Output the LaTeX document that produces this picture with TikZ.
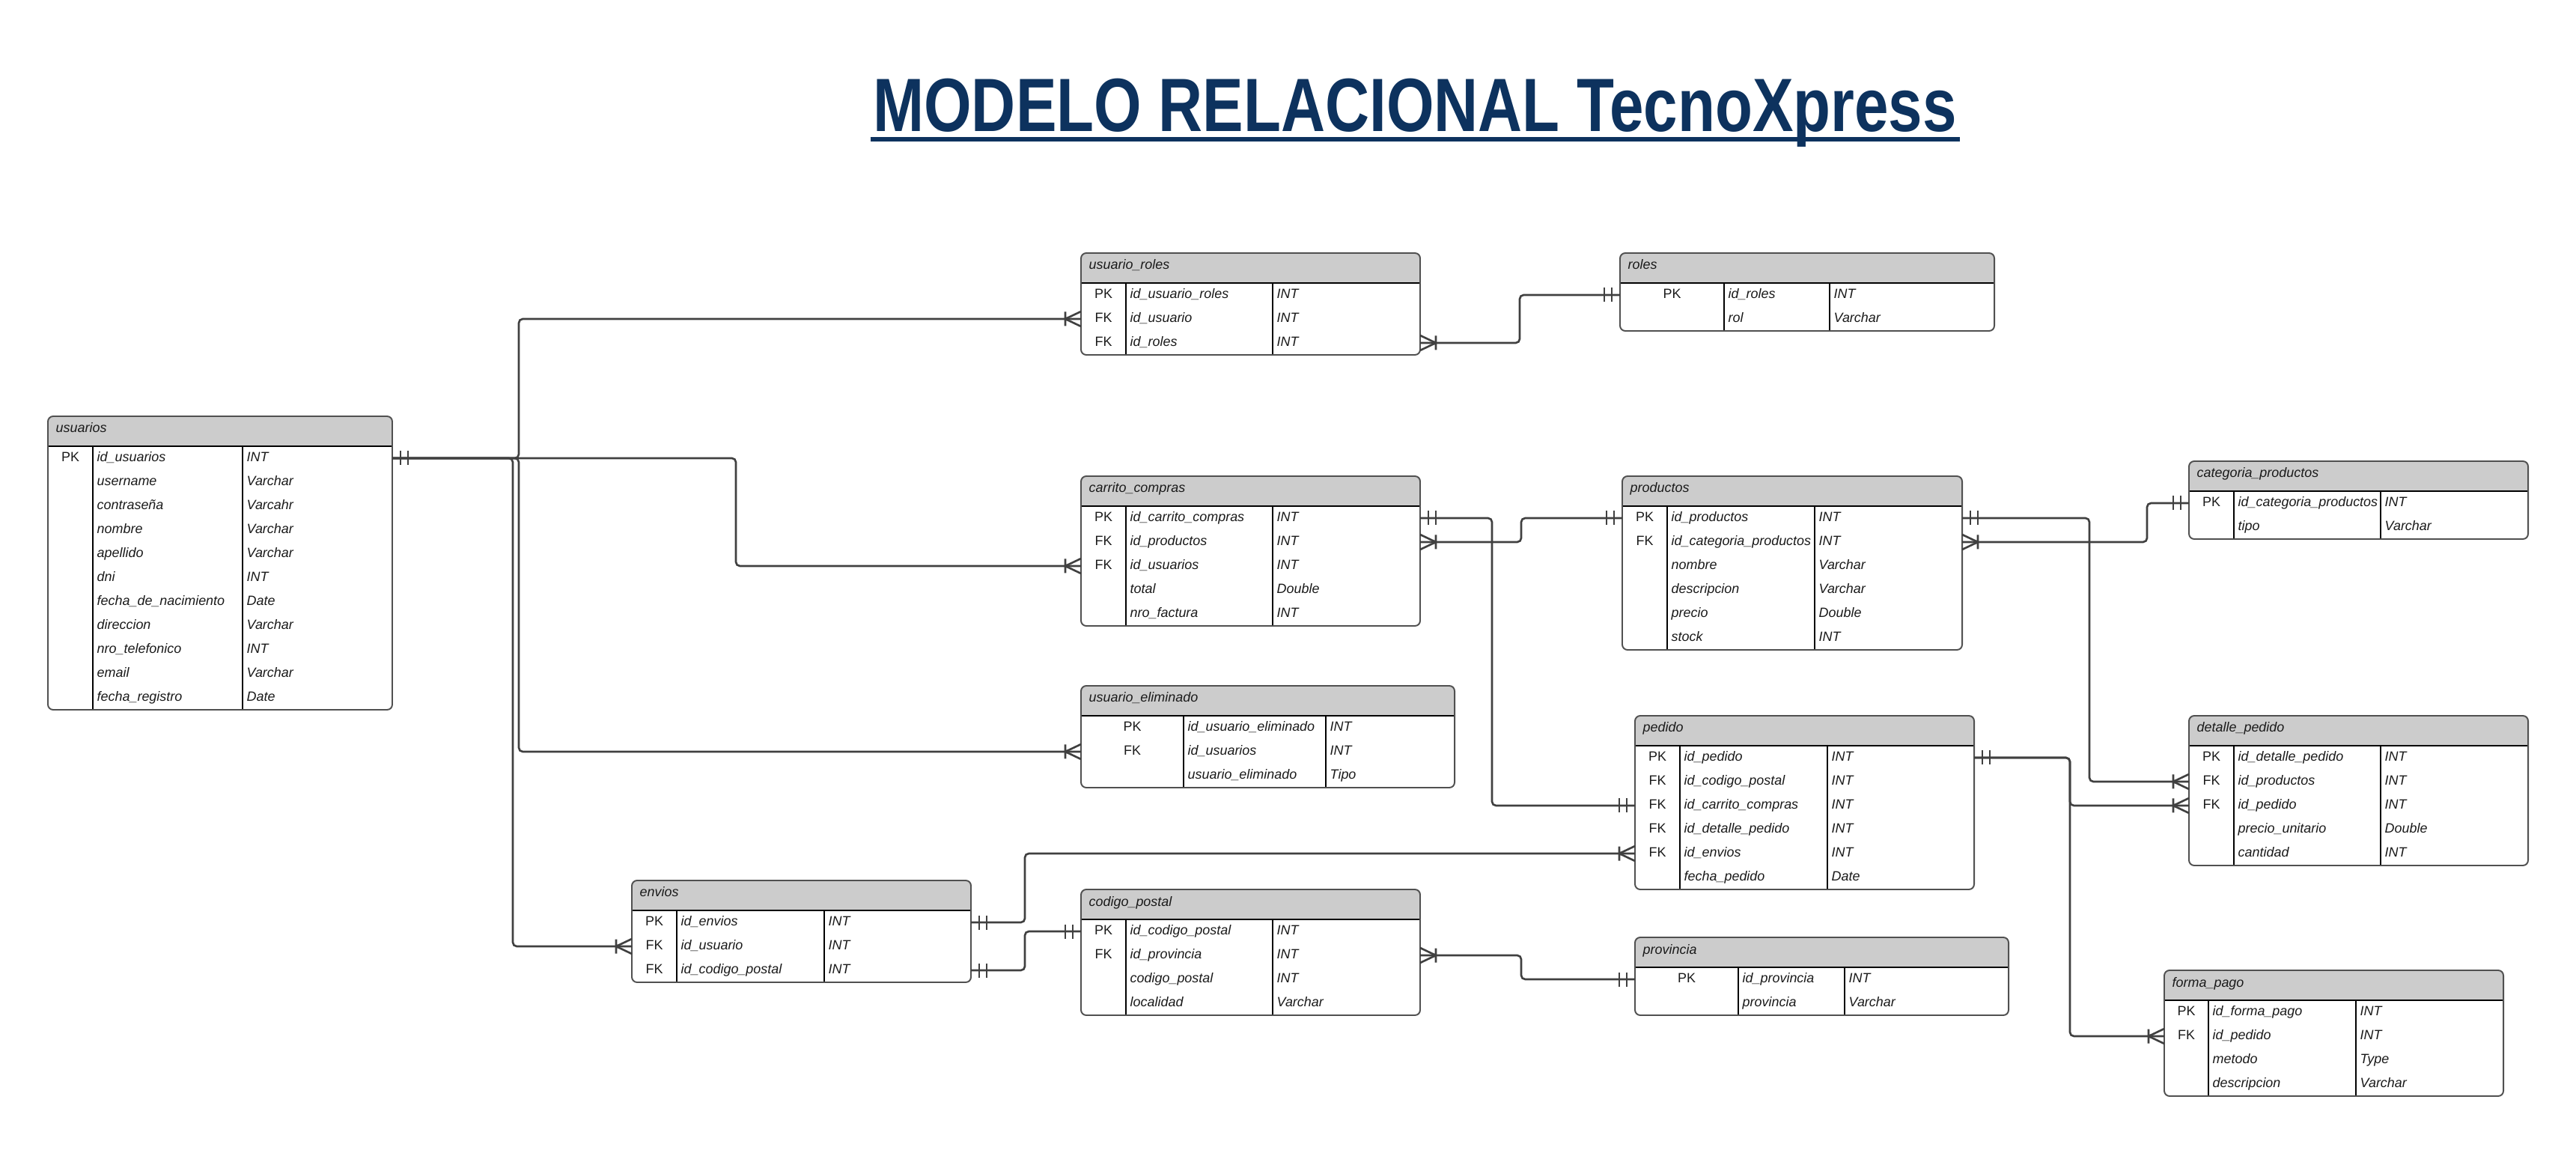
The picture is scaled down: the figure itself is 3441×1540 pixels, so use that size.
\documentclass[tikz,border=0pt]{standalone}
\usepackage{fontspec}
\usepackage{graphicx}
\newfontfamily\erfont{Liberation Sans}
\newfontfamily\titlefont{Liberation Sans}
\definecolor{headc}{HTML}{CCCCCC}
\definecolor{borderc}{HTML}{505050}
\definecolor{connc}{HTML}{404040}
\definecolor{txtc}{HTML}{1A1A1A}
\definecolor{titlec}{RGB}{13,50,94}
\tikzset{
  hdrtxt/.style={font=\erfont\itshape\fontsize{5.1}{6}\selectfont, text=txtc, inner sep=0pt, anchor=base west},
  keytxt/.style={font=\erfont\fontsize{5.1}{6}\selectfont, text=txtc, inner sep=0pt, anchor=base},
  fldtxt/.style={font=\erfont\itshape\fontsize{5.1}{6}\selectfont, text=txtc, inner sep=0pt, anchor=base west},
  tbl/.style={draw=borderc, line width=0.55pt, rounded corners=2pt, inner sep=0pt, outer sep=0pt, anchor=north west},
  tblline/.style={draw=black, line width=0.45pt},
  conn/.style={draw=connc, line width=0.75pt, rounded corners=1.5pt},
  onemark/.pic={\draw[connc, line width=0.75pt] (-11,-9.5) -- (-11,9.5) (-21,-9.5) -- (-21,9.5);},
  manymark/.pic={\draw[connc, line width=0.75pt, sharp corners] (0,-10) -- (-21,0) -- (0,10) (-21,-9.5) -- (-21,9.5);},
}
% #1 name, #2 title, #3 left, #4 top, #5 right, #6 div1, #7 div2, #8 nrows, #9 rows
\newcommand{\ertable}[9]{%
  \pgfmathsetmacro\erhead{#4+40}%
  \pgfmathsetmacro\erbot{#4+40+#8*32}%
  \pgfmathsetmacro\erw{(#5-#3)*0.01}%
  \pgfmathsetmacro\erh{(40+#8*32)*0.01}%
  \begin{scope}
    \clip (#3,#4) rectangle (#5,\erhead);
    \fill[headc, rounded corners=2pt] (#3,#4) rectangle (#5,\erbot);
  \end{scope}
  \draw[tblline] (#3,\erhead) -- (#5,\erhead);
  \draw[tblline] (#6,\erhead) -- (#6,\erbot);
  \draw[tblline] (#7,\erhead) -- (#7,\erbot);
  \node[hdrtxt] (#1-title) at (#3+10,#4+22) {#2};
  \foreach \erk/\erf/\ert [count=\eri] in {#9} {%
    \pgfmathsetmacro\ery{#4+40+(\eri-0.5)*32}%
    \node[keytxt] (#1-k\eri) at ({(#3+#6)/2},\ery+4.5) {\erk};
    \node[fldtxt] (#1-f\eri) at (#6+5,\ery+4.5) {\erf};
    \node[fldtxt] (#1-t\eri) at (#7+5,\ery+4.5) {\ert};
    \coordinate (#1-\eri-l) at (#3,\ery);
    \coordinate (#1-\eri-r) at (#5,\ery);
  }%
  \node[tbl, minimum width=\erw cm, minimum height=\erh cm] (#1) at (#3,#4) {};
}
\begin{document}
\begin{tikzpicture}[x=0.01cm, y=-0.01cm]
\fill[white] (0,0) rectangle (3441,1540);
\useasboundingbox (0,0) rectangle (3441,1540);

% title
\node[inner sep=0pt, anchor=base, text=titlec, font=\titlefont\bfseries\fontsize{28.7}{30}\selectfont] (title) at (1890,175.5) {\scalebox{0.81}[1]{MODELO RELACIONAL TecnoXpress}};
\draw[titlec, line width=1.5pt] ([yshift=-0.105cm,xshift=-0.03cm]title.base west) -- ([yshift=-0.105cm,xshift=0.04cm]title.base east);

% tables
\ertable{usu}{usuarios}{64}{556}{524}{124}{324}{11}{PK/id\_usuarios/INT, {}/username/Varchar, {}/contraseña/Varcahr, {}/nombre/Varchar, {}/apellido/Varchar, {}/dni/INT, {}/fecha\_de\_nacimiento/Date, {}/direccion/Varchar, {}/nro\_telefonico/INT, {}/email/Varchar, {}/fecha\_registro/Date}
\ertable{ur}{usuario\_roles}{1444}{338}{1897}{1504}{1700}{3}{PK/id\_usuario\_roles/INT, FK/id\_usuario/INT, FK/id\_roles/INT}
\ertable{roles}{roles}{2164}{338}{2664}{2303}{2444}{2}{PK/id\_roles/INT, {}/rol/Varchar}
\ertable{cc}{carrito\_compras}{1444}{636}{1897}{1504}{1700}{5}{PK/id\_carrito\_compras/INT, FK/id\_productos/INT, FK/id\_usuarios/INT, {}/total/Double, {}/nro\_factura/INT}
\ertable{prod}{productos}{2167}{636}{2621}{2227}{2424}{6}{PK/id\_productos/INT, FK/id\_categoria\_productos/INT, {}/nombre/Varchar, {}/descripcion/Varchar, {}/precio/Double, {}/stock/INT}
\ertable{cat}{categoria\_productos}{2924}{616}{3377}{2984}{3180}{2}{PK/id\_categoria\_productos/INT, {}/tipo/Varchar}
\ertable{ue}{usuario\_eliminado}{1444}{916}{1943}{1581}{1771}{3}{PK/id\_usuario\_eliminado/INT, FK/id\_usuarios/INT, {}/usuario\_eliminado/Tipo}
\ertable{ped}{pedido}{2184}{956}{2637}{2244}{2441}{6}{PK/id\_pedido/INT, FK/id\_codigo\_postal/INT, FK/id\_carrito\_compras/INT, FK/id\_detalle\_pedido/INT, FK/id\_envios/INT, {}/fecha\_pedido/Date}
\ertable{det}{detalle\_pedido}{2924}{956}{3377}{2984}{3180}{5}{PK/id\_detalle\_pedido/INT, FK/id\_productos/INT, FK/id\_pedido/INT, {}/precio\_unitario/Double, {}/cantidad/INT}
\ertable{env}{envios}{844}{1176}{1297}{904}{1101}{3}{PK/id\_envios/INT, FK/id\_usuario/INT, FK/id\_codigo\_postal/INT}
\ertable{cp}{codigo\_postal}{1444}{1188}{1897}{1504}{1700}{4}{PK/id\_codigo\_postal/INT, FK/id\_provincia/INT, {}/codigo\_postal/INT, {}/localidad/Varchar}
\ertable{prov}{provincia}{2184}{1252}{2683}{2322}{2464}{2}{PK/id\_provincia/INT, {}/provincia/Varchar}
\ertable{fp}{forma\_pago}{2891}{1296}{3344}{2950}{3147}{4}{PK/id\_forma\_pago/INT, FK/id\_pedido/INT, {}/metodo/Type, {}/descripcion/Varchar}

% connectors
\draw[conn] (usu-1-r) -- ++(169,0) |- (ur-2-l);
\draw[conn] (usu-1-r) -- ++(459,0) |- (cc-3-l);
\draw[conn] (usu-1-r) -- ++(169,0) |- (ue-2-l);
\draw[conn] (usu-1-r) -- ++(161,0) |- (env-2-l);
\draw[conn] (ur-3-r) -- ++(133,0) |- (roles-1-l);
\draw[conn] (cc-1-r) -- ++(96,0) |- (ped-3-l);
\draw[conn] (cc-2-r) -- ++(135,0) |- (prod-1-l);
\draw[conn] (prod-2-r) -- ++(247,0) |- (cat-1-l);
\draw[conn] (prod-1-r) -- ++(170,0) |- (det-2-l);
\draw[conn] (ped-1-r) -- ++(128,0) |- (det-3-l);
\draw[conn] (ped-1-r) -- ++(128,0) |- (fp-2-l);
\draw[conn] (env-1-r) -- ++(72,0) |- (ped-5-l);
\draw[conn] (env-3-r) -- ++(72,0) |- (cp-1-l);
\draw[conn] (cp-2-r) -- ++(135,0) |- (prov-1-l);

% end marks
\pic[xscale=-1] at (usu-1-r) {onemark};
\pic at (ur-2-l) {manymark};
\pic at (cc-3-l) {manymark};
\pic at (ue-2-l) {manymark};
\pic at (env-2-l) {manymark};
\pic[xscale=-1] at (ur-3-r) {manymark};
\pic at (roles-1-l) {onemark};
\pic[xscale=-1] at (cc-1-r) {onemark};
\pic at (ped-3-l) {onemark};
\pic[xscale=-1] at (cc-2-r) {manymark};
\pic at (prod-1-l) {onemark};
\pic[xscale=-1] at (prod-2-r) {manymark};
\pic at (cat-1-l) {onemark};
\pic[xscale=-1] at (prod-1-r) {onemark};
\pic at (det-2-l) {manymark};
\pic[xscale=-1] at (ped-1-r) {onemark};
\pic at (det-3-l) {manymark};
\pic at (fp-2-l) {manymark};
\pic[xscale=-1] at (env-1-r) {onemark};
\pic at (ped-5-l) {manymark};
\pic[xscale=-1] at (env-3-r) {onemark};
\pic at (cp-1-l) {onemark};
\pic[xscale=-1] at (cp-2-r) {manymark};
\pic at (prov-1-l) {onemark};
\end{tikzpicture}
\end{document}
